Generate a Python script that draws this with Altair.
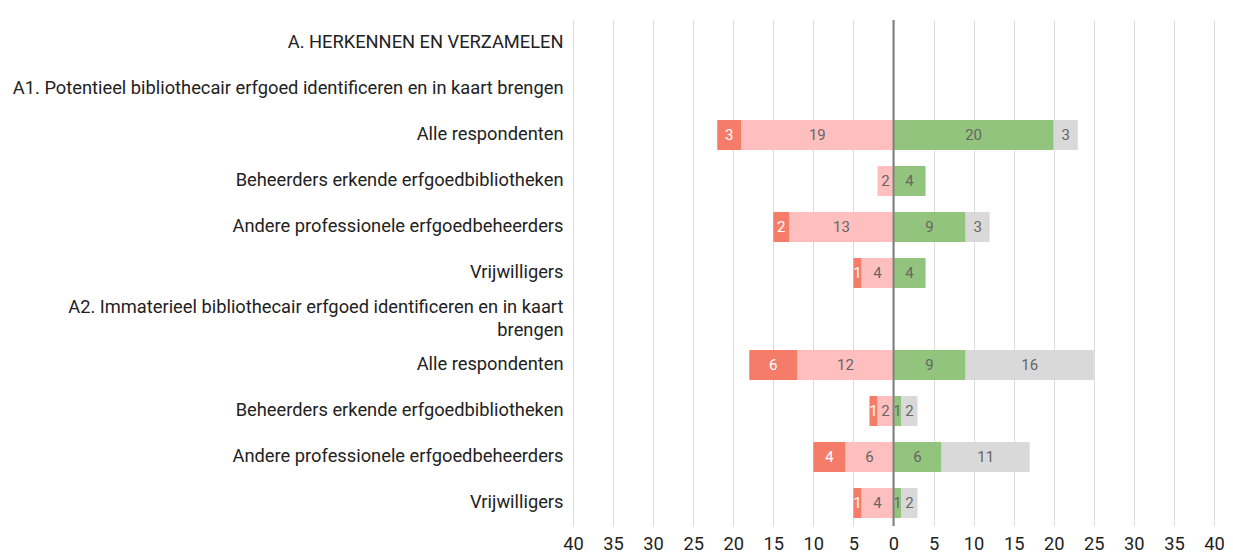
import altair as alt
import pandas as pd

labels = [
    "A. HERKENNEN EN VERZAMELEN",
    "A1. Potentieel bibliothecair erfgoed identificeren en in kaart brengen",
    "Alle respondenten",
    "Beheerders erkende erfgoedbibliotheken",
    "Andere professionele erfgoedbeheerders",
    "Vrijwilligers",
    "A2. Immaterieel bibliothecair erfgoed identificeren en in kaart\nbrengen",
    "Alle respondenten",
    "Beheerders erkende erfgoedbibliotheken",
    "Andere professionele erfgoedbeheerders",
    "Vrijwilligers",
]

red = [None, None, 3, 0, 2, 1, None, 6, 1, 4, 1]
pink = [None, None, 19, 2, 13, 4, None, 12, 2, 6, 4]
green = [None, None, 20, 4, 9, 4, None, 9, 1, 6, 1]
gray = [None, None, 3, 0, 3, 0, None, 16, 2, 11, 2]

series_names = ["Zeer negatief", "Negatief", "Positief", "Neutraal"]
series_colors = ["#f67c6a", "#ffbfbf", "#93c47d", "#d9d9d9"]

recs = []
for i in range(len(labels)):
    if red[i] is None:
        continue
    s = 0
    for name, v in ((series_names[1], pink[i]), (series_names[0], red[i])):
        if v:
            recs.append(dict(key=i, series=name, value=v, start=-s, end=-(s + v)))
        s += v
    s = 0
    for name, v in ((series_names[2], green[i]), (series_names[3], gray[i])):
        if v:
            recs.append(dict(key=i, series=name, value=v, start=s, end=s + v))
        s += v
df = pd.DataFrame(recs)
df["mid"] = (df["start"] + df["end"]) / 2

parts = []
multi_idx = []
for i, l in enumerate(labels):
    if "\n" in l:
        a, b = l.split("\n")
        parts.append("['%s','%s']" % (a, b))
        multi_idx.append(i)
    else:
        parts.append("'%s'" % l)
label_expr = "[" + ",".join(parts) + "][datum.value]"

FONT = "Roboto"
FS = 18.3
LH = 23

yenc = alt.Y(
    "key:O",
    scale=alt.Scale(domain=list(range(len(labels))), paddingInner=0.35, paddingOuter=0.175),
    axis=alt.Axis(
        title=None, labelExpr=label_expr, labelLimit=700, labelFontSize=FS,
        labelFont=FONT, labelColor="#222222", ticks=False, domain=False,
        labelPadding=10, labelLineHeight=LH,
        labelOffset={"condition": {"test": "datum.value == %d" % multi_idx[0], "value": -LH / 2}, "value": 0},
    ),
)
xscale = alt.Scale(domain=[-40, 40], nice=False, zero=False)
xaxis = alt.Axis(
    title=None, values=list(range(-40, 41, 5)), labelExpr="abs(datum.value)",
    grid=True, gridColor="#dcdcdc", gridWidth=1, ticks=False, domain=False,
    labelFontSize=FS, labelFont=FONT, labelColor="#222222", labelPadding=9,
    labelFlush=False, labelOverlap=False,
)

bars = alt.Chart(df).mark_bar(cornerRadius=1).encode(
    x=alt.X("start:Q", scale=xscale, axis=xaxis),
    x2="end:Q",
    y=yenc,
    color=alt.Color("series:N", scale=alt.Scale(domain=series_names, range=series_colors), legend=None),
)

texts = alt.Chart(df).mark_text(font=FONT, fontSize=15).encode(
    x=alt.X("mid:Q", scale=xscale),
    y=yenc,
    text="value:Q",
    color=alt.condition(alt.datum.series == series_names[0], alt.value("white"), alt.value("#666666")),
)

zero = alt.Chart(pd.DataFrame({"z": [0]})).mark_rule(color="#808080", strokeWidth=2).encode(
    x=alt.X("z:Q", scale=xscale)
)

chart = alt.layer(bars, texts, zero).properties(
    width=641, height=506,
    autosize=alt.AutoSizeParams(type="none"),
    padding={"left": 565, "top": 12, "right": 10, "bottom": 26},
).configure_view(stroke=None)

chart.save("out.html", embed_options={"renderer": "svg", "actions": False})
